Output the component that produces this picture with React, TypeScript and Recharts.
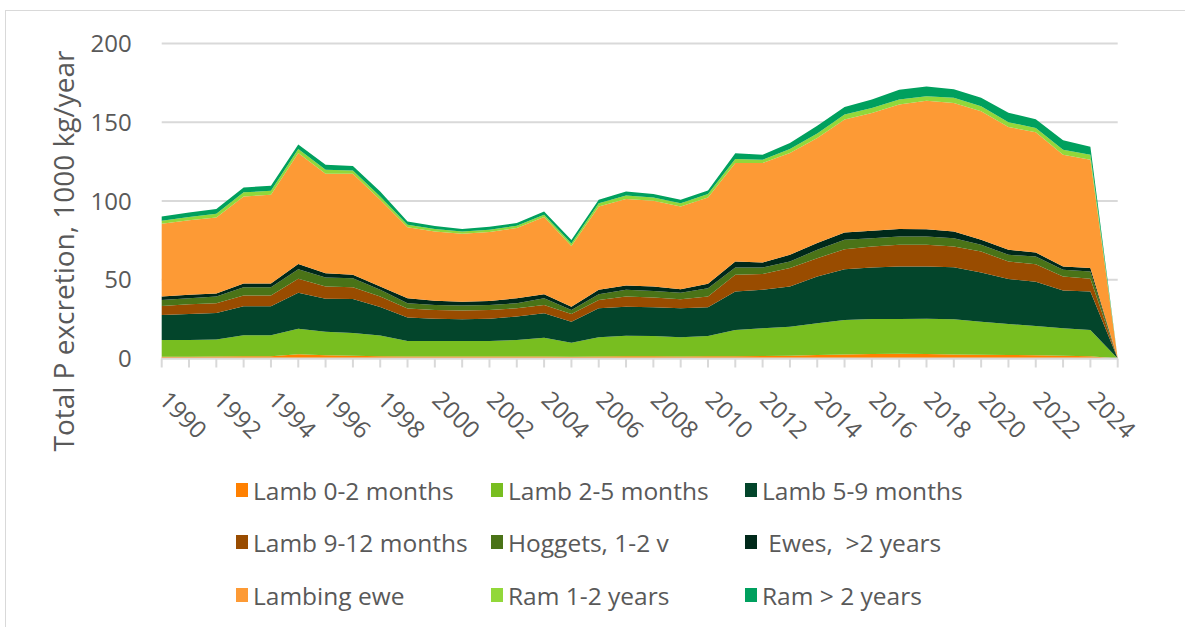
import { AreaChart, Area, XAxis, YAxis, CartesianGrid } from 'recharts';

const years = [
  '1990', '1991', '1992', '1993', '1994', '1995', '1996', '1997', '1998', '1999',
  '2000', '2001', '2002', '2003', '2004', '2005', '2006', '2007', '2008', '2009',
  '2010', '2011', '2012', '2013', '2014', '2015', '2016', '2017', '2018', '2019',
  '2020', '2021', '2022', '2023', '2024', '2025',
];

// 1000 kg P / year
const lamb0to2 = [1.1, 1.1, 1.2, 1.5, 1.5, 2.7, 2.0, 1.8, 1.5, 1.2, 1.2, 1.2, 1.2, 1.2, 1.3, 1.1, 1.3, 1.4, 1.4, 1.3, 1.4, 1.5, 1.6, 1.8, 2.2, 2.5, 2.8, 3.0, 2.8, 2.5, 2.4, 2.2, 2.1, 1.8, 1.5, 0];
const lamb2to5 = [10.7, 10.7, 10.8, 13.2, 13.2, 16.2, 15.0, 14.4, 13.1, 9.9, 9.9, 9.9, 9.9, 10.6, 11.9, 8.9, 12.2, 13.1, 12.9, 12.2, 12.9, 16.6, 17.6, 18.4, 20.2, 22.0, 22.3, 22.1, 22.4, 22.4, 21.0, 19.7, 18.6, 17.4, 16.6, 0];
const lamb5to9 = [15.8, 16.4, 16.9, 18.5, 18.5, 22.8, 21.0, 21.5, 18.1, 14.9, 14.1, 13.9, 14.2, 14.8, 15.5, 13.4, 18.4, 18.4, 18.3, 18.4, 18.3, 24.4, 24.4, 25.5, 29.6, 32.2, 32.6, 33.3, 33.2, 33.1, 31.2, 28.5, 28.1, 23.9, 24.4, 0];
const lamb9to12 = [5.8, 6.3, 6.2, 6.8, 6.8, 9.0, 7.7, 7.5, 6.6, 5.7, 5.6, 5.5, 5.5, 5.3, 5.3, 4.9, 5.3, 6.4, 6.1, 5.7, 6.7, 10.6, 10.1, 11.7, 11.7, 12.7, 13.4, 13.8, 13.8, 13.1, 13.3, 11.2, 11.1, 8.9, 8.1, 0];
const hoggets = [3.8, 3.8, 4.2, 5.3, 5.3, 6.0, 5.8, 5.8, 4.3, 3.4, 3.2, 3.2, 3.2, 3.2, 4.3, 2.5, 3.6, 4.3, 4.2, 4.2, 5.3, 4.6, 4.0, 4.2, 5.3, 6.0, 5.3, 5.3, 5.3, 5.3, 4.3, 4.2, 4.8, 4.3, 4.6, 0];
const ewes = [2.1, 2.1, 2.0, 2.3, 2.3, 3.3, 2.7, 2.1, 2.1, 3.1, 2.7, 2.4, 2.5, 3.2, 2.5, 2.1, 2.8, 2.7, 2.8, 2.2, 2.8, 3.9, 3.3, 4.2, 4.3, 4.6, 4.7, 4.7, 4.5, 4.2, 3.2, 3.2, 2.6, 2.1, 2.2, 0];
const lambingEwe = [46.2, 47.4, 48.3, 55.3, 56.4, 70.5, 63.1, 64.2, 55.1, 45.2, 44.0, 43.1, 43.8, 44.5, 49.0, 38.6, 52.9, 54.9, 54.5, 52.5, 54.9, 62.5, 63.1, 64.7, 66.7, 71.7, 74.8, 79.0, 81.6, 81.7, 81.6, 78.0, 76.3, 71.0, 68.8, 0];
const ram1to2 = [1.9, 2.0, 2.3, 2.6, 2.5, 2.5, 2.6, 2.1, 2.1, 1.6, 1.6, 1.5, 1.5, 1.5, 1.5, 1.5, 2.0, 2.3, 2.0, 2.0, 2.1, 2.6, 2.1, 2.5, 2.8, 3.3, 3.2, 3.2, 2.9, 3.2, 3.1, 3.0, 2.8, 3.2, 3.2, 0];
const ramOver2 = [2.8, 2.9, 3.1, 3.1, 3.2, 2.8, 3.1, 2.9, 3.1, 2.0, 1.9, 1.5, 1.9, 1.7, 2.0, 2.2, 2.3, 2.5, 2.2, 2.3, 2.3, 3.6, 3.2, 3.8, 5.0, 4.7, 5.3, 6.3, 6.2, 5.5, 5.4, 6.0, 5.5, 5.9, 5.1, 0];

const yTicks = [0, 50, 100, 150, 200];

const series = [
  { key: 'lamb0to2', name: 'Lamb 0-2 months', color: '#FF8000', values: lamb0to2 },
  { key: 'lamb2to5', name: 'Lamb 2-5 months', color: '#78BE20', values: lamb2to5 },
  { key: 'lamb5to9', name: 'Lamb 5-9 months', color: '#03452B', values: lamb5to9 },
  { key: 'lamb9to12', name: 'Lamb 9-12 months', color: '#994C00', values: lamb9to12 },
  { key: 'hoggets', name: 'Hoggets, 1-2 v', color: '#4A7317', values: hoggets },
  { key: 'ewes', name: ' Ewes,  >2 years', color: '#00291A', values: ewes },
  { key: 'lambingEwe', name: 'Lambing ewe', color: '#FD9A35', values: lambingEwe },
  { key: 'ram1to2', name: 'Ram 1-2 years', color: '#92D83A', values: ram1to2 },
  { key: 'ramOver2', name: 'Ram > 2 years', color: '#00A05E', values: ramOver2 },
];

const data = years.map((year, i) => {
  const row: Record<string, string | number> = { year };
  series.forEach((s) => {
    row[s.key] = s.values[i];
  });
  return row;
});

const FONT = '"Open Sans", "Noto Sans", sans-serif';
const TEXT = '#595959';
const GRID = '#d9d9d9';

function YearTick({ x, y, payload }: any) {
  const yr = Number(payload.value);
  if (yr % 2 !== 0 || yr > 2024) return <g />;
  const tx = x - 4;
  const ty = y + 32;
  return (
    <text
      x={tx}
      y={ty}
      transform={`rotate(45 ${tx} ${ty})`}
      textAnchor="start"
      fill={TEXT}
      fontSize={24}
      fontFamily={FONT}
    >
      {payload.value}
    </text>
  );
}

const legendCols = [236, 491, 745];
const legendRows = [490, 542, 595];

export default function App() {
  return (
    <div
      style={{
        position: 'absolute',
        left: 0,
        top: 0,
        width: 1185,
        height: 627,
        background: '#fff',
        fontFamily: FONT,
        overflow: 'hidden',
      }}
    >
      <div
        style={{
          position: 'absolute',
          left: 5,
          top: 10,
          width: 1200,
          height: 640,
          borderTop: `1px solid ${GRID}`,
          borderLeft: `1px solid ${GRID}`,
        }}
      />
      <div style={{ position: 'absolute', left: 0, top: 0 }}>
        <AreaChart
          width={1185}
          height={627}
          data={data}
          margin={{ top: 43.5, right: 67.3, left: 101.7, bottom: 208.5 }}
        >
          <CartesianGrid vertical={false} stroke={GRID} strokeWidth={2} />
          <XAxis
            dataKey="year"
            interval={0}
            height={60}
            tick={<YearTick />}
            tickSize={9}
            tickLine={{ stroke: GRID, strokeWidth: 2 }}
            axisLine={{ stroke: GRID, strokeWidth: 2 }}
          />
          <YAxis
            width={60}
            domain={[0, 200]}
            ticks={yTicks}
            tickLine={false}
            axisLine={false}
            tickMargin={24}
            tick={{ fill: TEXT, fontSize: 24, fontFamily: FONT }}
            label={() => (
              <text
                x={63}
                y={251}
                transform="rotate(-90 63 251)"
                textAnchor="middle"
                dominantBaseline="central"
                fill={TEXT}
                fontSize={28}
                fontFamily={FONT}
              >
                Total P excretion, 1000 kg/year
              </text>
            )}
          />
          {series.map((s) => (
            <Area
              key={s.key}
              type="linear"
              dataKey={s.key}
              name={s.name}
              stackId="p"
              stroke="none"
              fill={s.color}
              fillOpacity={1}
              isAnimationActive={false}
            />
          ))}
        </AreaChart>
      </div>
      {series.map((s, i) => {
        const col = i % 3;
        const row = Math.floor(i / 3);
        return (
          <div
            key={s.key}
            style={{
              position: 'absolute',
              left: legendCols[col],
              top: legendRows[row] - 18,
              height: 36,
              display: 'flex',
              alignItems: 'center',
              whiteSpace: 'pre',
              color: TEXT,
              fontSize: 24.5,
            }}
          >
            <span
              style={{
                display: 'inline-block',
                width: 12,
                height: 14,
                background: s.color,
                marginRight: 5,
              }}
            />
            {s.name}
          </div>
        );
      })}
    </div>
  );
}
